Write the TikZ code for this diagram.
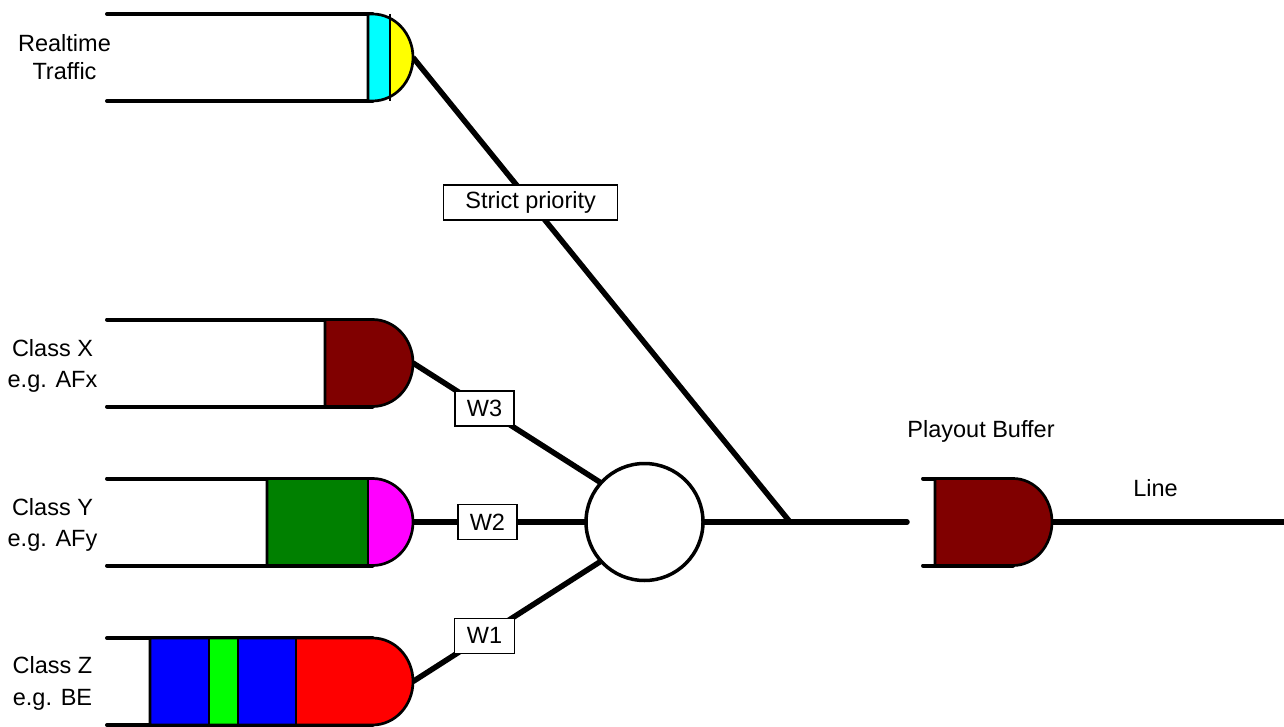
\documentclass[tikz,border=0pt]{standalone}
\usepackage{fontspec}
\setmainfont{Liberation Sans}
\definecolor{qcyan}{RGB}{0,255,255}
\definecolor{qyellow}{RGB}{255,255,0}
\definecolor{qmaroon}{RGB}{128,0,0}
\definecolor{qgreen}{RGB}{0,128,0}
\definecolor{qmagenta}{RGB}{255,0,255}
\definecolor{qblue}{RGB}{0,0,255}
\definecolor{qlime}{RGB}{0,255,0}
\definecolor{qred}{RGB}{255,0,0}
% #1 left x, #2 centre y, #3 arc start x, #4 right x
\newcommand\DClip[4]{\clip (#1,{#2-43.5}) -- (#3,{#2-43.5}) .. controls ({#3+0.5523*(#4-#3)},{#2-43.5}) and (#4,{#2-24.02}) .. (#4,#2) .. controls (#4,{#2+24.02}) and ({#3+0.5523*(#4-#3)},{#2+43.5}) .. (#3,{#2+43.5}) -- (#1,{#2+43.5}) -- cycle;}
\newcommand\DDraw[4]{\draw[headline] (#1,{#2-43.5}) -- (#3,{#2-43.5}) .. controls ({#3+0.5523*(#4-#3)},{#2-43.5}) and (#4,{#2-24.02}) .. (#4,#2) .. controls (#4,{#2+24.02}) and ({#3+0.5523*(#4-#3)},{#2+43.5}) .. (#3,{#2+43.5}) -- (#1,{#2+43.5}) -- cycle;}
\tikzset{
  qline/.style={line width=4pt, line cap=round},
  headline/.style={line width=2.7pt, line join=round},
  divider/.style={line width=2pt},
  conn/.style={line width=5.5pt},
  lab/.style={draw, line width=1.5pt, fill=white, minimum height=35pt, inner sep=0pt,
    font=\fontsize{23.5}{28}\selectfont},
  txt/.style={align=center, inner sep=0pt},
}
\begin{document}
\begin{tikzpicture}[x=1pt,y=-1pt]
\useasboundingbox (0,0) rectangle (1284,727);

% coordinates of queue heads
\coordinate (rth) at (413,57.5);
\coordinate (xh) at (413,363);
\coordinate (yh) at (413,522);
\coordinate (zh) at (413,681.5);
\coordinate (j) at (790,522);
\coordinate (lend) at (907,522);
\coordinate (pbh) at (1052,522);
\coordinate (out) at (1284,522);

% scheduler
\node[draw, circle, line width=3.5pt, minimum size=117pt, inner sep=0pt, outer sep=0pt, fill=white] (sched) at (644.5,522) {};

% connectors
\draw[conn] (rth) -- (j) node[lab, minimum width=174pt, pos=0.312] (sp) {Strict priority};
\draw[conn] (xh) -- (sched.138) node[lab, minimum width=59pt, pos=0.38] (w3) {W3};
\draw[conn] (yh) -- (sched.west) node[lab, minimum width=59pt, pos=0.43] (w2) {W2};
\draw[conn] (zh) -- (sched.222) node[lab, minimum width=60pt, pos=0.38] (w1) {W1};
\draw[conn] (sched.east) -- (j);
\draw[conn, line cap=round] (j) -- (lend);
\draw[conn] (pbh) -- (out);

% Realtime queue
\draw[qline] (107,14) -- (372.5,14);
\draw[qline] (107,101) -- (372.5,101);
\begin{scope}
\DClip{368}{57.5}{372.5}{413}
\fill[qcyan] (368,0) rectangle (390,120);
\fill[qyellow] (390,0) rectangle (414,120);
\end{scope}
\draw[divider] (390,14) -- (390,101);
\DDraw{368}{57.5}{372.5}{413}

% Class X queue
\draw[qline] (107,319.5) -- (372.5,319.5);
\draw[qline] (107,406.5) -- (372.5,406.5);
\begin{scope}
\DClip{325}{363}{372.5}{413}
\fill[qmaroon] (325,300) rectangle (414,420);
\end{scope}
\DDraw{325}{363}{372.5}{413}

% Class Y queue
\draw[qline] (107,478.5) -- (372.5,478.5);
\draw[qline] (107,565.5) -- (372.5,565.5);
\begin{scope}
\DClip{267}{522}{372.5}{413}
\fill[qgreen] (267,470) rectangle (368,580);
\fill[qmagenta] (368,470) rectangle (414,580);
\end{scope}
\draw[divider] (368,478.5) -- (368,565.5);
\DDraw{267}{522}{372.5}{413}

% Class Z queue
\draw[qline] (107,638) -- (372.5,638);
\draw[qline] (107,725) -- (372.5,725);
\begin{scope}
\DClip{150}{681.5}{372.5}{413}
\fill[qblue] (150,630) rectangle (209,730);
\fill[qlime] (209,630) rectangle (238,730);
\fill[qblue] (238,630) rectangle (296,730);
\fill[qred] (296,630) rectangle (414,730);
\end{scope}
\draw[divider] (209,638) -- (209,725);
\draw[divider] (238,638) -- (238,725);
\draw[divider] (296,638) -- (296,725);
\DDraw{150}{681.5}{372.5}{413}

% Playout buffer
\draw[qline] (923,478.5) -- (1013,478.5);
\draw[qline] (923,565.5) -- (1013,565.5);
\begin{scope}
\DClip{935}{522}{1013}{1052}
\fill[qmaroon] (935,470) rectangle (1053,580);
\end{scope}
\DDraw{935}{522}{1013}{1052}

% labels
\node[txt, font=\fontsize{23.5}{28}\selectfont] (lrt) at (64.5,57.5) {Realtime\\Traffic};
\node[txt, font=\fontsize{23.5}{31}\selectfont] (lx) at (52.5,365.5) {Class X\\e.g. AFx};
\node[txt, font=\fontsize{23.5}{31}\selectfont] (ly) at (52.5,524.5) {Class Y\\e.g. AFy};
\node[txt, font=\fontsize{23.5}{32}\selectfont] (lz) at (52.5,683.5) {Class Z\\e.g. BE};
\node[anchor=base, inner sep=0pt, font=\fontsize{23.5}{28}\selectfont] (lpb) at (981,437.5) {Playout Buffer};
\node[anchor=base, inner sep=0pt, font=\fontsize{23.5}{28}\selectfont] (lline) at (1155.5,496) {Line};
\end{tikzpicture}
\end{document}
